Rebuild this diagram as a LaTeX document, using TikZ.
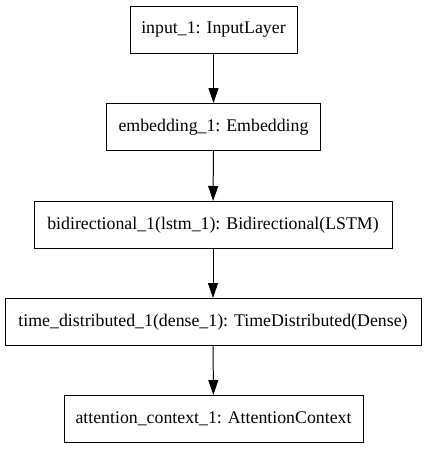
\documentclass[tikz,border=0pt]{standalone}
\usepackage{fontspec}
\setmainfont{Liberation Serif}
\usetikzlibrary{arrows.meta, positioning}

\begin{document}
\begin{tikzpicture}[
  layer/.style={rectangle, draw=black, line width=0.85pt, inner sep=0pt,
                font=\fontsize{15.2}{18}\selectfont, align=center,
                minimum width=#1, minimum height=1.41cm},
  flow/.style={-{Triangle[length=0.45cm, width=0.3cm]}, line width=0.85pt, black},
]
  \useasboundingbox (0,0) rectangle (12.84,-13.47);

  % Layers
  \node[layer=5.01cm]  (inp)   at (6.405,-0.885) {input\_1: InputLayer};
  \node[layer=6.42cm]  (emb)   at (6.405,-3.81)  {embedding\_1: Embedding};
  \node[layer=10.74cm] (bidir) at (6.39,-6.75)   {bidirectional\_1(lstm\_1): Bidirectional(LSTM)};
  \node[layer=12.48cm] (tdist) at (6.39,-9.66)   {time\_distributed\_1(dense\_1): TimeDistributed(Dense)};
  \node[layer=8.97cm]  (att)   at (6.405,-12.57) {attention\_context\_1: AttentionContext};

  % Connections
  \foreach \a/\b in {inp/emb, emb/bidir, bidir/tdist, tdist/att}
    \draw[flow] (\a) -- (\b);
\end{tikzpicture}
\end{document}
